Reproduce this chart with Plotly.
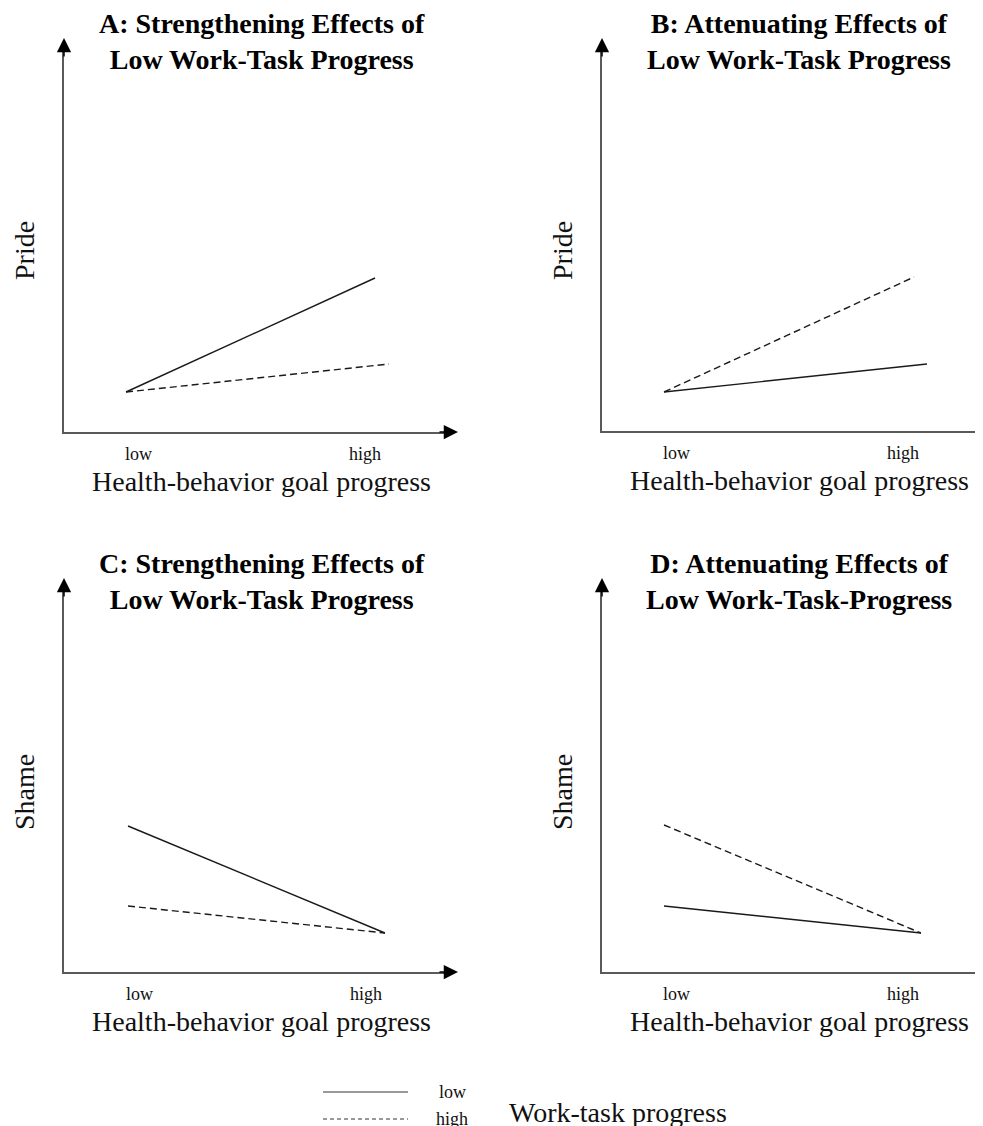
import plotly.graph_objects as go

# The page body adds an 8px margin, so the figure is drawn 8px smaller and all
# reference pixel positions are converted with that offset.
OFF = 8
W, H = 983 - OFF, 1126 - OFF

# ---------------- data (schematic interaction plots) ----------------
tick_vals = [0.05, 0.96]
tick_text = ["low", "high"]

# Panel A: Pride, strengthening
A_low_x = [0.0, 1.0]
A_low_y = [1.0, 3.85]
A_high_x = [0.0, 1.056]
A_high_y = [1.0, 1.7]

# Panel B: Pride, attenuating
B_low_x = [0.0, 1.056]
B_low_y = [0.975, 1.675]
B_high_x = [0.0, 1.004]
B_high_y = [0.975, 3.85]

# Panel C: Shame, strengthening
C_low_x = [0.004, 1.036]
C_low_y = [3.65, 0.975]
C_high_x = [0.004, 1.036]
C_high_y = [1.65, 0.975]

# Panel D: Shame, attenuating
D_low_x = [0.0, 1.032]
D_low_y = [1.65, 0.975]
D_high_x = [0.0, 1.032]
D_high_y = [3.675, 0.975]

titles = [
    "A: Strengthening Effects of<br>Low Work-Task Progress",
    "B: Attenuating Effects of<br>Low Work-Task Progress",
    "C: Strengthening Effects of<br>Low Work-Task Progress",
    "D: Attenuating Effects of<br>Low Work-Task-Progress",
]
y_titles = ["Pride", "Pride", "Shame", "Shame"]
x_title = "Health-behavior goal progress"
legend_title = "Work-task progress"
legend_labels = ["low", "high"]

# ---------------- layout geometry (pixels) ----------------
FONT = "Liberation Serif, Times New Roman, serif"
AXCOL = "#5a5a5a"
LINECOL = "#1a1a1a"
TXT = "#111"
XSCALE = 249.0   # px per x unit
YSCALE = 40.0    # px per y unit

def px(x):
    return (x - OFF) / W

def py(y):
    return 1 - (y - OFF) / H

panels = [
    dict(l=64, b=432, r=446, t=52, x0=126, arrow=True, cx=262, ytc=251),
    dict(l=602, b=431, r=983, t=52, x0=664, arrow=False, cx=799, ytc=251),
    dict(l=64, b=972, r=446, t=592, x0=127, arrow=True, cx=262, ytc=792),
    dict(l=602, b=972, r=983, t=592, x0=664, arrow=False, cx=799, ytc=792),
]

series = [
    ((A_low_x, A_low_y), (A_high_x, A_high_y)),
    ((B_low_x, B_low_y), (B_high_x, B_high_y)),
    ((C_low_x, C_low_y), (C_high_x, C_high_y)),
    ((D_low_x, D_low_y), (D_high_x, D_high_y)),
]

fig = go.Figure()
annotations = []
shapes = []

for i, (p, (low, high)) in enumerate(zip(panels, series)):
    n = "" if i == 0 else str(i + 1)
    xa, ya = "x" + n, "y" + n
    fig.add_trace(go.Scatter(x=low[0], y=low[1], mode="lines", xaxis=xa, yaxis=ya,
                             line=dict(color=LINECOL, width=1.4), showlegend=False,
                             name="low"))
    fig.add_trace(go.Scatter(x=high[0], y=high[1], mode="lines", xaxis=xa, yaxis=ya,
                             line=dict(color=LINECOL, width=1.4, dash="7px,4px"),
                             showlegend=False, name="high"))
    xr = [(p["l"] - p["x0"]) / XSCALE, (p["r"] - p["x0"]) / XSCALE]
    yr = [0, (p["b"] - p["t"]) / YSCALE]
    fig.layout["xaxis" + n] = dict(
        domain=[px(p["l"]), min(1.0, px(p["r"]))], range=xr, anchor=ya,
        showline=True, linecolor=AXCOL, linewidth=1.6, showgrid=False, zeroline=False,
        tickvals=tick_vals, ticktext=tick_text, ticks="",
        tickfont=dict(family=FONT, size=18, color=TXT),
        ticklabelstandoff=5, fixedrange=True,
    )
    fig.layout["yaxis" + n] = dict(
        domain=[py(p["b"]), py(p["t"])], range=yr, anchor=xa,
        showline=True, linecolor=AXCOL, linewidth=1.6, showgrid=False, zeroline=False,
        showticklabels=False, ticks="", fixedrange=True,
    )
    # panel title
    annotations.append(dict(
        text="<b>" + titles[i] + "</b>", xref="paper", yref="paper",
        x=px(p["cx"]), y=py(p["t"] + 25), xanchor="center", yanchor="bottom",
        showarrow=False, align="center",
        font=dict(family=FONT, size=28, color="#000"),
    ))
    # x-axis title
    annotations.append(dict(
        text=x_title, xref="paper", yref="paper",
        x=px(p["cx"]), y=py(p["b"] + 49), xanchor="center", yanchor="middle",
        showarrow=False, font=dict(family=FONT, size=28, color=TXT),
    ))
    # y-axis title
    annotations.append(dict(
        text=y_titles[i], xref="paper", yref="paper", textangle=-90,
        x=px(p["l"] - 40), y=py(p["ytc"]), xanchor="center", yanchor="middle",
        showarrow=False, font=dict(family=FONT, size=28, color=TXT),
    ))
    # y-axis arrowhead
    annotations.append(dict(
        text="", xref="paper", yref="paper", x=px(p["l"]), y=py(p["t"] - 14),
        ax=0, ay=20, showarrow=True, arrowhead=2, arrowsize=1.9, arrowwidth=1.5,
        arrowcolor="#000", standoff=0,
    ))
    if p["arrow"]:
        annotations.append(dict(
            text="", xref="paper", yref="paper", x=px(p["r"] + 12), y=py(p["b"]),
            ax=-20, ay=0, showarrow=True, arrowhead=2, arrowsize=1.9, arrowwidth=1.5,
            arrowcolor="#000", standoff=0,
        ))

# ---------------- legend (drawn) ----------------
leg_y = [1092, 1119]
for k, (lab, yy) in enumerate(zip(legend_labels, leg_y)):
    shapes.append(dict(type="line", xref="paper", yref="paper",
                       x0=px(323), x1=px(408), y0=py(yy), y1=py(yy),
                       line=dict(color="#777", width=1.3, dash="solid" if k == 0 else "4px,3px")))
    annotations.append(dict(text=lab, xref="paper", yref="paper", x=px(452), y=py(yy),
                            xanchor="center", yanchor="middle", showarrow=False,
                            font=dict(family=FONT, size=18, color=TXT)))
annotations.append(dict(text=legend_title, xref="paper", yref="paper", x=px(618), y=py(1112),
                        xanchor="center", yanchor="middle", showarrow=False,
                        font=dict(family=FONT, size=28, color=TXT)))

fig.update_layout(
    width=W, height=H, margin=dict(l=0, r=0, t=0, b=0),
    paper_bgcolor="white", plot_bgcolor="white",
    annotations=annotations, shapes=shapes, showlegend=False,
    font=dict(family=FONT),
)

fig.write_html("out.html")
